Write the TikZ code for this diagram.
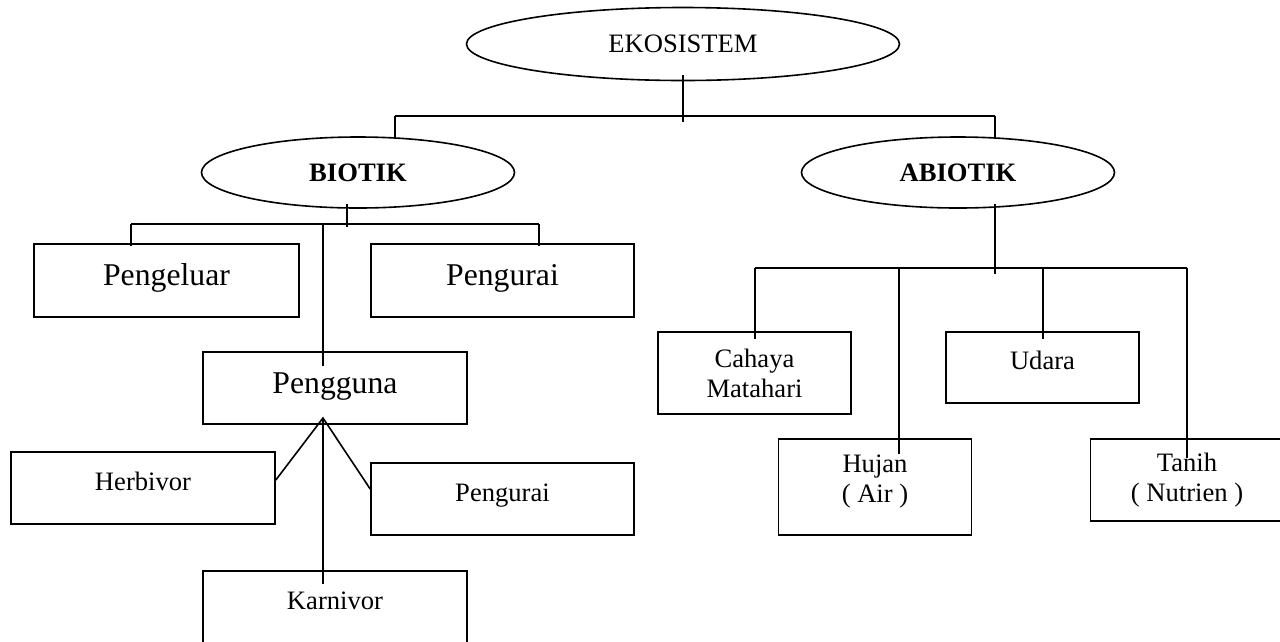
\documentclass[tikz,border=0pt]{standalone}
\usepackage{fontspec}
\setmainfont{Liberation Serif}
\usetikzlibrary{shapes.geometric}
\newcommand\txtsmall{\fontsize{26.6}{30}\selectfont}
\newcommand\txtbig{\fontsize{31.7}{36}\selectfont}

\begin{document}
\begin{tikzpicture}[x=1pt,y=-1pt,line width=1.6pt,
  oval/.style={draw,ellipse,inner sep=0,font=\txtsmall},
  box/.style={draw,rectangle,inner sep=0,minimum width=264pt,minimum height=72pt,
    font=\txtsmall,text height=18pt,text depth=14pt},
  bigbox/.style={box,font=\txtbig,text height=22pt,text depth=12pt},
  abox/.style={draw,rectangle,inner sep=0,minimum width=193pt,align=center,font=\txtsmall}]
\useasboundingbox (0,0) rectangle (1280,641);
\clip (0,0) rectangle (1280,641);

\node[oval,minimum width=433pt,minimum height=73pt] (eko) at (683,44) {EKOSISTEM};
\node[oval,minimum width=313pt,minimum height=71pt,font=\txtsmall\bfseries] (bio) at (358,172.5) {BIOTIK};
\node[oval,minimum width=313pt,minimum height=71pt,font=\txtsmall\bfseries] (abio) at (958,172.5) {ABIOTIK};

\node[bigbox,minimum width=265pt,minimum height=73pt] (keluar) at (166.5,280.5) {Pengeluar};
\node[bigbox,minimum width=263pt,minimum height=73pt] (urai) at (502.5,280.5) {Pengurai};
\node[bigbox] (guna) at (335,388) {Pengguna};
\node[box] (herbi) at (143,488) {Herbivor};
\node[box,minimum width=263pt] (urai2) at (502.5,499) {Pengurai};
\node[box] (karni) at (335,607) {Karnivor};

\node[abox,minimum height=82pt] (cahaya) at (754.5,373) {Cahaya\\Matahari};
\node[abox,minimum height=71pt,text height=18pt,text depth=14pt] (udara) at (1042.5,367.5) {Udara};
\node[abox,minimum height=96pt,text depth=17pt] (hujan) at (875,487) {Hujan\\( Air )};
\node[abox,minimum height=82pt] (tanih) at (1187,480) {Tanih\\( Nutrien )};

\coordinate (tl) at (395,116);
\coordinate (tr) at (995,116);
\draw ([yshift=6]eko.south) -- ([yshift=-6]eko.south |- tl);
\draw (tl) -- (tr);
\draw (tl) -- ([yshift=-2]tl |- bio.north);
\draw (tr) -- ([yshift=-2]tr |- abio.north);

\coordinate (bl) at (131,224);
\coordinate (bm) at (347,224);
\coordinate (br) at (539,224);
\coordinate (bg) at (323,224);
\draw ([yshift=5]bm |- bio.south) -- ([yshift=-3]bm);
\draw (bl) -- (br);
\foreach \c/\n/\d in {bl/keluar/3,br/urai/3,bg/guna/15}
  \draw (\c) -- ([yshift=-\d]\c |- \n.north);

\coordinate (apex) at (323,418);
\draw ([yshift=8]herbi.east) -- (apex) -- ([yshift=10]urai2.west);
\draw (apex) -- ([yshift=-14]apex |- karni.north);

\coordinate (am) at (995,268);
\draw ([yshift=5]am |- abio.south) -- ([yshift=-6]am);
\draw (cahaya.north |- am) -- (tanih.north |- am);
\foreach \x/\n/\d in {755/cahaya/8,899/hujan/16,1043/udara/8,1187/tanih/20}
  \draw (\x,268) -- ([yshift=-\d]\x,268 |- \n.north);
\end{tikzpicture}
\end{document}
